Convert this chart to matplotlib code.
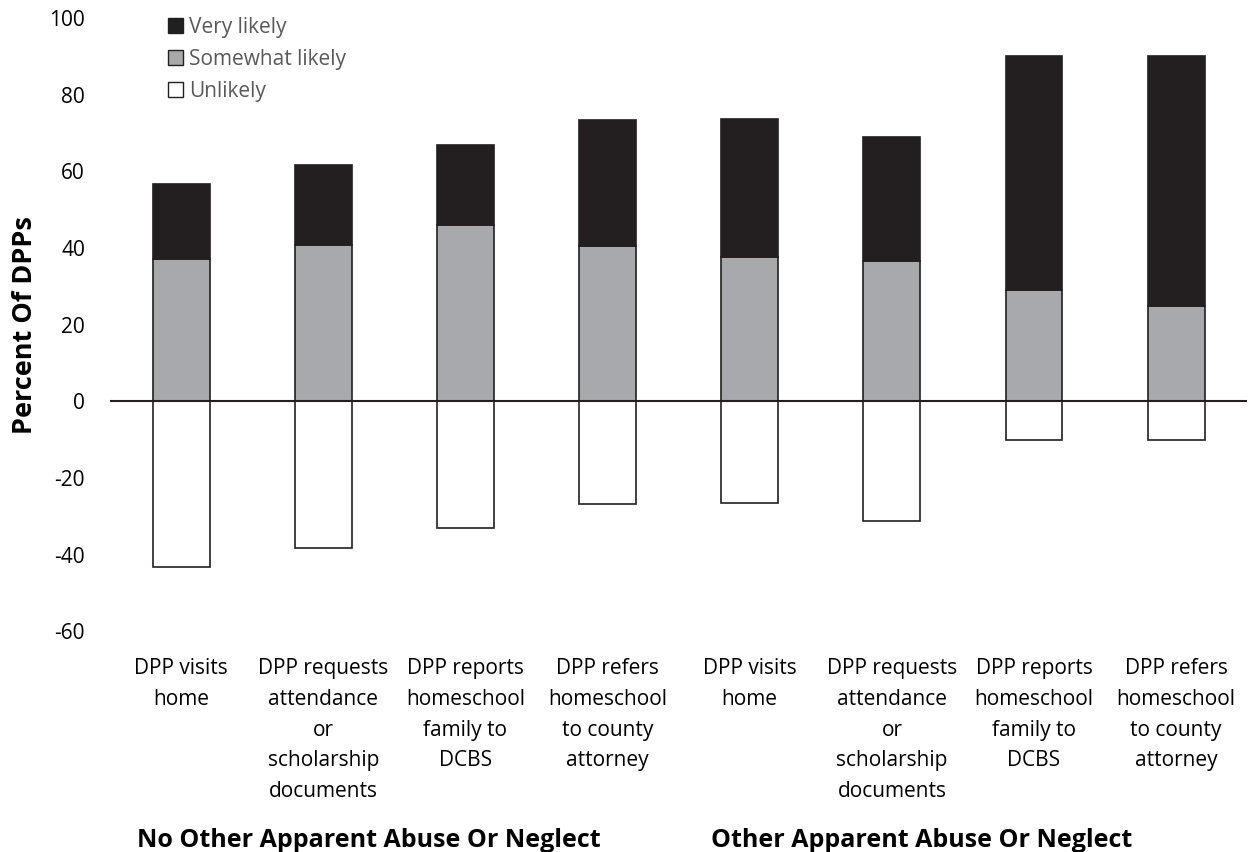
import numpy as np
import matplotlib
matplotlib.use('Agg')
import matplotlib.pyplot as plt
from matplotlib.patches import Patch

plt.rcParams['font.family'] = ['Open Sans', 'DejaVu Sans']
plt.rcParams['axes.unicode_minus'] = False

# Data
actions = ['DPP visits\nhome',
           'DPP requests\nattendance\nor\nscholarship\ndocuments',
           'DPP reports\nhomeschool\nfamily to\nDCBS',
           'DPP refers\nhomeschool\nto county\nattorney']
groups = ['No Other Apparent Abuse Or Neglect', 'Other Apparent Abuse Or Neglect']
labels = actions + actions

very_likely = [19.8, 21.0, 20.9, 32.8, 36.1, 32.3, 61.2, 65.2]
somewhat_likely = [37.0, 40.7, 45.9, 40.5, 37.6, 36.6, 28.9, 24.9]
unlikely = [43.3, 38.3, 33.1, 26.8, 26.4, 31.1, 10.1, 10.1]

black = '#231f20'
grey = '#a7a9ac'

fig = plt.figure(figsize=(12.51, 8.52), dpi=100)
ax = fig.add_axes([0.088, 0.259, 0.909, 0.72])

x = np.arange(len(labels))
w = 0.4
ax.bar(x, somewhat_likely, w, color=grey, edgecolor=black, linewidth=1.2, label='Somewhat likely')
ax.bar(x, very_likely, w, bottom=somewhat_likely, color=black, edgecolor=black, linewidth=1.2, label='Very likely')
ax.bar(x, [-u for u in unlikely], w, color='white', edgecolor=black, linewidth=1.2, label='Unlikely')

ax.axhline(0, color=black, linewidth=1.5)
ax.set_xlim(-0.5, len(labels) - 0.5)
ax.set_ylim(-60, 100)
ax.set_yticks(np.arange(-60, 101, 20))
ax.set_xticks(x)
ax.set_xticklabels(labels, linespacing=1.62, fontsize=15)
ax.tick_params(axis='x', length=0, pad=19)
ax.tick_params(axis='y', length=0, pad=18, labelsize=15)
for s in ax.spines.values():
    s.set_visible(False)

ax.set_ylabel('Percent Of DPPs', fontsize=19.5, fontweight='bold')
ax.yaxis.set_label_coords(-0.0633, 0.5)

group_x = [-0.31, 3.73]
for gx, g in zip(group_x, groups):
    ax.text(gx, -0.341, g, transform=ax.get_xaxis_transform(),
            ha='left', va='center', fontsize=18, fontweight='bold')

handles = [Patch(facecolor=black, edgecolor=black, label='Very likely'),
           Patch(facecolor=grey, edgecolor=black, label='Somewhat likely'),
           Patch(facecolor='white', edgecolor=black, label='Unlikely')]
leg = ax.legend(handles=handles, loc='upper left', bbox_to_anchor=(0.044, 1.015),
                frameon=False, fontsize=15, handlelength=0.7, handleheight=0.7,
                handletextpad=0.3, labelspacing=0.52, borderaxespad=0)
for t in leg.get_texts():
    t.set_color('#595959')

fig.savefig('out.png', dpi=100)
